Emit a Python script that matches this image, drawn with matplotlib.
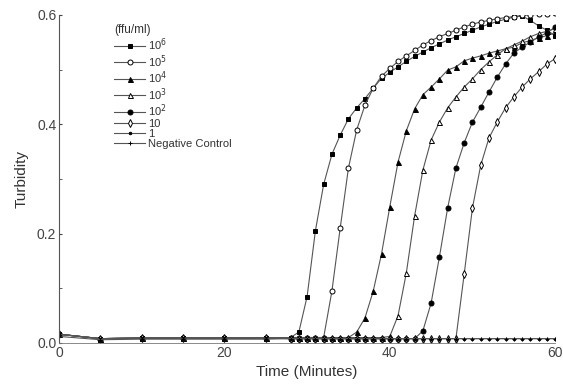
import matplotlib.pyplot as plt

plt.rcParams['font.family'] = ['Liberation Sans', 'DejaVu Sans']

# sampling times (minutes)
times = [0, 5, 10, 15, 20, 25] + list(range(28, 61))

early = [0.016, 0.008, 0.009, 0.009, 0.009, 0.009]

c1e6 = early + [0.010, 0.020, 0.085, 0.205, 0.290, 0.345, 0.380, 0.410, 0.430, 0.447,
                0.466, 0.484, 0.495, 0.505, 0.515, 0.524, 0.532, 0.540, 0.547, 0.554,
                0.560, 0.566, 0.572, 0.578, 0.583, 0.588, 0.592, 0.596, 0.598, 0.590,
                0.580, 0.572, 0.562]
c1e5 = early + [0.010, 0.010, 0.010, 0.010, 0.010, 0.095, 0.210, 0.320, 0.390, 0.435,
                0.466, 0.488, 0.502, 0.515, 0.525, 0.535, 0.545, 0.553, 0.560, 0.566,
                0.572, 0.578, 0.583, 0.587, 0.590, 0.593, 0.595, 0.597, 0.599, 0.600,
                0.601, 0.602, 0.603]
c1e4 = early + [0.010, 0.010, 0.010, 0.010, 0.010, 0.010, 0.010, 0.010, 0.020, 0.046,
                0.095, 0.163, 0.249, 0.331, 0.388, 0.428, 0.454, 0.468, 0.483, 0.499,
                0.505, 0.516, 0.521, 0.525, 0.530, 0.534, 0.538, 0.541, 0.549, 0.553,
                0.558, 0.562, 0.567]
c1e3 = early + [0.010, 0.010, 0.010, 0.010, 0.010, 0.010, 0.010, 0.010, 0.010, 0.010,
                0.010, 0.010, 0.012, 0.050, 0.128, 0.232, 0.316, 0.371, 0.404, 0.430,
                0.450, 0.468, 0.483, 0.500, 0.514, 0.527, 0.538, 0.545, 0.552, 0.560,
                0.566, 0.570, 0.575]
c1e2 = early + [0.008, 0.008, 0.008, 0.008, 0.008, 0.008, 0.008, 0.008, 0.008, 0.008,
                0.008, 0.008, 0.008, 0.008, 0.008, 0.008, 0.022, 0.073, 0.157, 0.247,
                0.320, 0.366, 0.404, 0.431, 0.459, 0.486, 0.510, 0.530, 0.541, 0.550,
                0.560, 0.567, 0.578]
c1e1 = early + [0.008, 0.008, 0.008, 0.008, 0.008, 0.008, 0.008, 0.008, 0.008, 0.008,
                0.008, 0.008, 0.008, 0.008, 0.008, 0.008, 0.008, 0.008, 0.008, 0.008,
                0.008, 0.126, 0.247, 0.325, 0.375, 0.404, 0.430, 0.450, 0.468, 0.483,
                0.496, 0.510, 0.520]
c1 = early + [0.008] * 33
neg = [0.012, 0.006, 0.007, 0.007, 0.007, 0.007] + [0.008] * 33

series = [c1e6, c1e5, c1e4, c1e3, c1e2, c1e1, c1, neg]
labels = ['10$^6$', '10$^5$', '10$^4$', '10$^3$', '10$^2$', '10', '1', 'Negative Control']
markers = ['s', 'o', '^', '^', 'o', 'd', 'o', '+']
faces = ['black', 'white', 'black', 'white', 'black', 'white', 'black', 'black']
sizes = [3.2, 3.6, 3.6, 3.6, 3.6, 3.8, 1.8, 2.5]

fig = plt.figure(figsize=(5.63, 3.92), dpi=100)
ax = fig.add_axes([0.105, 0.125, 0.881, 0.837])

for vals, lab, m, fc, ms in zip(series, labels, markers, faces, sizes):
    ax.plot(times, vals, color='#555555', linewidth=0.8, marker=m, markersize=ms,
            markerfacecolor=fc, markeredgecolor='black', markeredgewidth=0.7, label=lab)

ax.set_xlim(0, 60)
ax.set_ylim(0, 0.6)
ax.set_xticks([0, 20, 40, 60])
ax.set_yticks([0.0, 0.2, 0.4, 0.6])
ax.set_yticks([0.1, 0.3, 0.5], minor=True)
ax.yaxis.set_major_formatter(plt.FormatStrFormatter('%.1f'))
ax.tick_params(axis='x', length=0, labelsize=10, colors='#444444', pad=2)
ax.tick_params(axis='y', which='both', direction='in', length=2, labelsize=10,
               colors='#444444', pad=2)
ax.spines['top'].set_visible(False)
ax.spines['right'].set_visible(False)
ax.spines['left'].set_color('#555555')
ax.spines['bottom'].set_color('#777777')
ax.spines['bottom'].set_linewidth(0.6)

ax.set_xlabel('Time (Minutes)', fontsize=11, color='#333333', labelpad=4)
ax.set_ylabel('Turbidity', fontsize=11, color='#333333', labelpad=6)

leg = ax.legend(title='(ffu/ml)', loc='upper left', bbox_to_anchor=(0.095, 0.995),
                frameon=False, fontsize=8, title_fontsize=8.5, handlelength=2.8,
                labelspacing=0.0, handletextpad=0.3, borderaxespad=0.3)
leg._legend_box.align = 'left'
for t in leg.get_texts():
    t.set_color('#333333')
leg.get_title().set_color('#333333')

fig.savefig('out.png', dpi=100)
